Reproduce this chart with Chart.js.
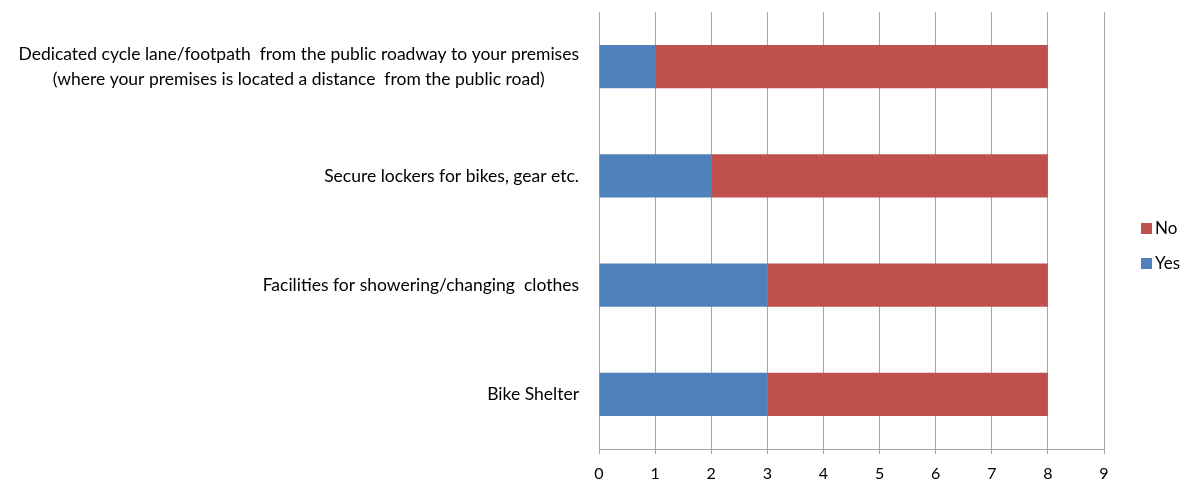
<!DOCTYPE html>
<html>
<head>
<meta charset="utf-8">
<script src="https://cdn.jsdelivr.net/npm/chart.js@4.4.1/dist/chart.umd.min.js"></script>
<style>
  html, body { margin: 0; padding: 0; background: #ffffff; }
  #wrap { width: 1188px; height: 483px; position: relative; }
</style>
</head>
<body>
<div id="wrap"><canvas id="c" width="1188" height="483"></canvas></div>
<script>
// Facility categories, top to bottom
const categories = [
  ['Dedicated cycle lane/footpath  from the public roadway to your premises',
   '(where your premises is located a distance  from the public road)'],
  ['Secure lockers for bikes, gear etc.'],
  ['Facilities for showering/changing  clothes'],
  ['Bike Shelter']
];
const yesValues = [1, 2, 3, 3];
const noValues  = [7, 6, 5, 5];
const xTicks = [0, 1, 2, 3, 4, 5, 6, 7, 8, 9];

const FONT = 'Lato, "Open Sans", sans-serif';
const GRID = '#a6a6a6';

// Category labels: each block right-aligned to the axis, lines centered within the block
const categoryLabels = {
  id: 'categoryLabels',
  afterDraw(chart) {
    const ctx = chart.ctx;
    const y = chart.scales.y;
    ctx.save();
    ctx.font = '17.5px ' + FONT;
    ctx.fillStyle = '#000000';
    ctx.textBaseline = 'middle';
    const rightEdge = y.right - 20;
    const lineH = 25;
    categories.forEach((lines, i) => {
      const cy = y.getPixelForTick(i);
      const widths = lines.map(t => ctx.measureText(t).width);
      const blockW = Math.max(...widths);
      const cx = rightEdge - blockW / 2;
      ctx.textAlign = 'center';
      lines.forEach((t, k) => {
        const ly = cy + (k - (lines.length - 1) / 2) * lineH;
        ctx.fillText(t, cx, ly);
      });
    });
    ctx.restore();
  }
};

// Legend on the right, series listed in reverse order
const sideLegend = {
  id: 'sideLegend',
  afterDraw(chart) {
    const ctx = chart.ctx;
    ctx.save();
    ctx.font = '17px ' + FONT;
    ctx.textBaseline = 'middle';
    ctx.textAlign = 'left';
    const items = chart.data.datasets.slice().reverse();
    const x0 = 1141;
    const y0 = 228;
    items.forEach((ds, i) => {
      const yy = y0 + i * 35;
      ctx.fillStyle = ds.backgroundColor;
      ctx.fillRect(x0, yy - 5, 11, 11);
      ctx.fillStyle = '#000000';
      ctx.fillText(ds.label, x0 + 14, yy + 1);
    });
    ctx.restore();
  }
};

new Chart(document.getElementById('c'), {
  type: 'bar',
  data: {
    labels: categories,
    datasets: [
      { label: 'Yes', data: yesValues, backgroundColor: '#4F81BD', barPercentage: 1, categoryPercentage: 0.395 },
      { label: 'No',  data: noValues,  backgroundColor: '#C0504D', barPercentage: 1, categoryPercentage: 0.395 }
    ]
  },
  options: {
    indexAxis: 'y',
    responsive: false,
    animation: false,
    layout: { padding: { top: 12, right: 84, left: 0, bottom: 0 } },
    plugins: {
      legend: { display: false },
      tooltip: { enabled: false }
    },
    scales: {
      x: {
        stacked: true,
        min: 0,
        max: 9,
        afterBuildTicks(scale) { scale.ticks = xTicks.map(v => ({ value: v })); },
        afterFit(scale) { scale.height = 34; },
        grid: { color: GRID, lineWidth: 1, drawTicks: true, tickLength: 5, tickColor: GRID },
        border: { display: true, color: GRID, width: 1 },
        ticks: { color: '#000000', font: { family: FONT, size: 16 }, padding: 10 }
      },
      y: {
        stacked: true,
        afterFit(scale) { scale.width = 599; },
        grid: { display: false },
        border: { display: true, color: GRID, width: 1 },
        ticks: { display: false }
      }
    }
  },
  plugins: [categoryLabels, sideLegend]
});
</script>
</body>
</html>
